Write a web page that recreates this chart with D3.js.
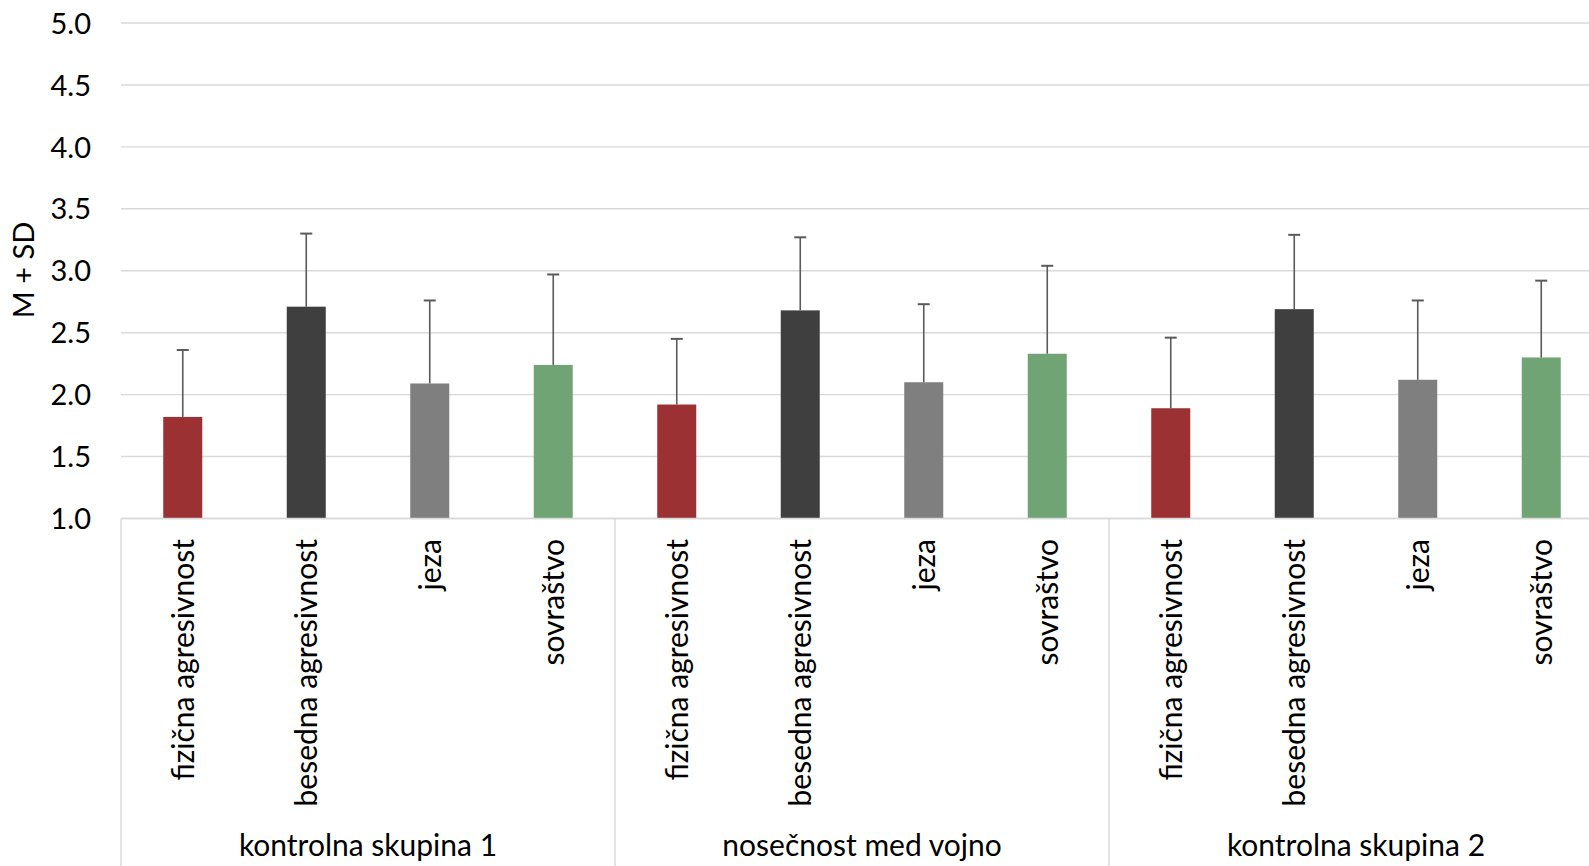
<!DOCTYPE html>
<html>
<head>
<meta charset="utf-8">
<script src="https://cdn.jsdelivr.net/npm/d3@7"></script>
<style>
  html, body { margin: 0; padding: 0; background: #fff; }
  svg { display: block; }
  text { font-family: Lato, "Open Sans", sans-serif; fill: #000; }
</style>
</head>
<body>
<svg id="chart" width="1589" height="866"></svg>
<script>
const groups = ["kontrolna skupina 1", "nosečnost med vojno", "kontrolna skupina 2"];
const categories = ["fizična agresivnost", "besedna agresivnost", "jeza", "sovraštvo"];
const meansG1 = [1.82, 2.71, 2.09, 2.24];
const meansG2 = [1.92, 2.68, 2.10, 2.33];
const meansG3 = [1.89, 2.69, 2.12, 2.30];
const sdG1 = [0.54, 0.59, 0.67, 0.73];
const sdG2 = [0.53, 0.59, 0.63, 0.71];
const sdG3 = [0.57, 0.60, 0.64, 0.62];
const yTicks = [1.0, 1.5, 2.0, 2.5, 3.0, 3.5, 4.0, 4.5, 5.0];
const yTitle = "M + SD";
const colors = ["#9C3133", "#3F3F3F", "#7F7F7F", "#70A474"];

(function () {
const means = [meansG1, meansG2, meansG3];
const sds = [sdG1, sdG2, sdG3];
const rows = [];
groups.forEach((g, gi) => categories.forEach((c, ci) => {
  rows.push({ key: gi + "|" + ci, group: g, gi, cat: c, ci, mean: means[gi][ci], sd: sds[gi][ci] });
}));

const svg = d3.select("#chart");
const mLeft = 121, mRight = 1603, mTop = 23, mBottom = 518.5;
const x = d3.scaleBand().domain(rows.map(d => d.key)).range([mLeft, mRight]).padding(0);
const y = d3.scaleLinear().domain([1, 5]).range([mBottom, mTop]);
const gx = d3.scaleBand().domain(groups).range([mLeft, mRight]).padding(0);
const barW = 39, capW = 12;
const fs = "30px";

// gridlines
svg.append("g").selectAll("line").data(yTicks).join("line")
  .attr("x1", mLeft).attr("x2", mRight)
  .attr("y1", d => y(d)).attr("y2", d => y(d))
  .attr("stroke", "#D9D9D9").attr("stroke-width", 1.4);

// y axis labels
const yAxis = d3.axisLeft(y).tickValues(yTicks).tickFormat(d3.format(".1f")).tickSize(0).tickPadding(30);
const ya = svg.append("g").attr("transform", `translate(${mLeft},0)`).call(yAxis);
ya.select(".domain").remove();
ya.selectAll("text").style("font-family", "Lato, 'Open Sans', sans-serif").style("font-size", "29px").attr("fill", "#000").attr("dy", "0.35em");

// y title
svg.append("text")
  .attr("transform", `translate(34,270) rotate(-90)`)
  .attr("text-anchor", "middle")
  .style("font-size", "29px")
  .text(yTitle);

// bars
svg.append("g").selectAll("rect").data(rows).join("rect")
  .attr("x", d => x(d.key) + (x.bandwidth() - barW) / 2)
  .attr("width", barW)
  .attr("y", d => y(d.mean))
  .attr("height", d => y(1) - y(d.mean))
  .attr("fill", d => colors[d.ci]);

// error bars
const eb = svg.append("g").attr("stroke", "#5A5A5A").attr("stroke-width", 1.6);
eb.selectAll("line.v").data(rows).join("line").attr("class", "v")
  .attr("x1", d => x(d.key) + x.bandwidth() / 2).attr("x2", d => x(d.key) + x.bandwidth() / 2)
  .attr("y1", d => y(d.mean)).attr("y2", d => y(d.mean + d.sd));
eb.selectAll("line.c").data(rows).join("line").attr("class", "c")
  .attr("x1", d => x(d.key) + x.bandwidth() / 2 - capW / 2).attr("x2", d => x(d.key) + x.bandwidth() / 2 + capW / 2)
  .attr("y1", d => y(d.mean + d.sd)).attr("y2", d => y(d.mean + d.sd))
  .attr("stroke-width", 2);

// baseline axis
svg.append("line").attr("x1", mLeft).attr("x2", mRight).attr("y1", y(1)).attr("y2", y(1))
  .attr("stroke", "#D9D9D9").attr("stroke-width", 1.4);

// group separators
const seps = groups.map(g => gx(g)).concat([mRight]);
svg.append("g").selectAll("line").data(seps).join("line")
  .attr("x1", d => d).attr("x2", d => d)
  .attr("y1", y(1)).attr("y2", 866)
  .attr("stroke", "#D9D9D9").attr("stroke-width", 1.4);

// category labels
svg.append("g").selectAll("text").data(rows).join("text")
  .attr("transform", d => `translate(${x(d.key) + x.bandwidth() / 2 + 11},539) rotate(-90)`)
  .attr("text-anchor", "end")
  .style("font-size", fs)
  .text(d => d.cat);

// group labels
svg.append("g").selectAll("text").data(groups).join("text")
  .attr("x", d => gx(d) + gx.bandwidth() / 2)
  .attr("y", 856)
  .attr("text-anchor", "middle")
  .style("font-size", fs)
  .text(d => d);
})();
</script>
</body>
</html>
